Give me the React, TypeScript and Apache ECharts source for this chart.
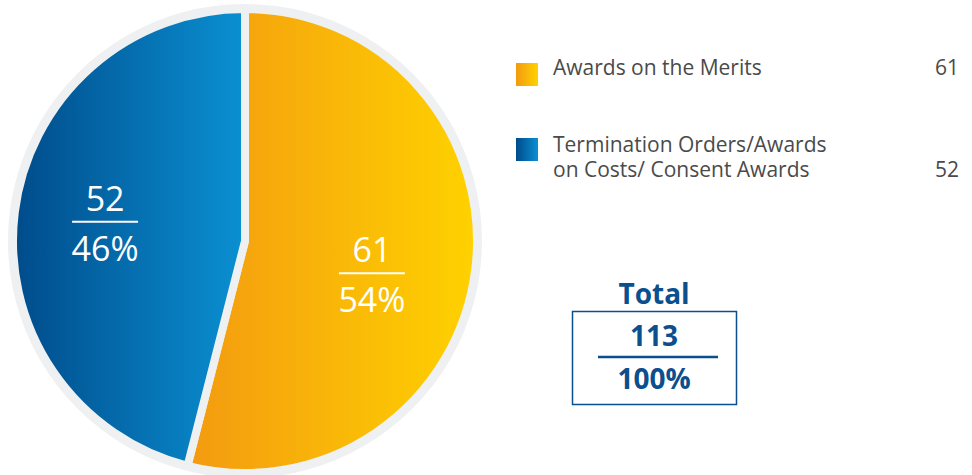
import React, { useEffect, useRef } from "react";
import * as echarts from "echarts";

const categories = ["Awards on the Merits", "Termination Orders/Awards\non Costs/ Consent Awards"];
const values = [61, 52];
const percents = ["54%", "46%"];
const totalValue = 113;
const totalPercent = "100%";
const gradientStops = [
  ["#F39A10", "#FFD200"],
  ["#004B8A", "#0A90D2"],
];

const FONT = "'Open Sans', 'Noto Sans', sans-serif";
const RING = "#EEF0F1";
const BLUE_TXT = "#0B4F8E";
const CENTER = [245, 241];

function grad(i: number) {
  return new echarts.graphic.LinearGradient(0, 0, 1, 0, [
    { offset: 0, color: gradientStops[i][0] },
    { offset: 1, color: gradientStops[i][1] },
  ]);
}

export default function App() {
  const ref = useRef<HTMLDivElement>(null);
  useEffect(() => {
    document.body.style.margin = "0";
    const chart = echarts.init(ref.current!, null, { renderer: "svg" });
    const data = values.map((v, i) => ({
      name: categories[i],
      value: v,
      itemStyle: { color: grad(i) },
    }));
    const labelShift = [
      [-11, 17],
      [-2, 0],
    ];
    const legendGraphics: any[] = [];
    const legendIconTops = [63, 138];
    const legendFirstLineY = [66.5, 143.5];
    const LINE_H = 25;
    categories.forEach((c, i) => {
      legendGraphics.push({
        type: "rect",
        shape: { x: 516, y: legendIconTops[i], width: 22, height: 23 },
        style: { fill: grad(i) },
      });
      const nLines = c.split("\n").length;
      legendGraphics.push({
        type: "text",
        x: 553,
        y: legendFirstLineY[i] + ((nLines - 1) * LINE_H) / 2,
        style: {
          text: c,
          font: `21px ${FONT}`,
          fill: "#4a4a4a",
          lineHeight: LINE_H,
          verticalAlign: "middle",
        },
      });
      legendGraphics.push({
        type: "text",
        x: 959,
        y: legendFirstLineY[i] + (nLines - 1) * LINE_H,
        style: {
          text: String(values[i]),
          font: `21px ${FONT}`,
          fill: "#4a4a4a",
          align: "right",
          verticalAlign: "middle",
        },
      });
    });

    const totalText = (text: string, y: number) => ({
      type: "text",
      x: 654,
      y,
      style: {
        text,
        font: `bold 28px ${FONT}`,
        fill: BLUE_TXT,
        align: "center",
        verticalAlign: "middle",
      },
    });

    chart.setOption({
      animation: false,
      series: [
        {
          type: "pie",
          silent: true,
          center: CENTER,
          radius: [0, 237],
          z: 1,
          label: { show: false },
          labelLine: { show: false },
          itemStyle: { color: RING },
          data: [{ value: 1 }],
        },
        {
          type: "pie",
          silent: true,
          center: CENTER,
          radius: [0, 232],
          startAngle: 90,
          clockwise: true,
          z: 2,
          label: { show: false },
          labelLine: { show: false },
          itemStyle: { borderColor: RING, borderWidth: 8 },
          data,
        },
        {
          type: "pie",
          silent: true,
          center: CENTER,
          radius: [0, 272],
          startAngle: 90,
          clockwise: true,
          z: 3,
          itemStyle: { color: "transparent" },
          labelLine: { show: false },
          label: {
            show: true,
            position: "inside",
            formatter: (p: any) => `{a|${values[p.dataIndex]}}\n{hr|}\n{b|${percents[p.dataIndex]}}`,
            rich: {
              a: { fontSize: 34, fontFamily: FONT, color: "#fff", lineHeight: 46, align: "center" },
              hr: { width: 66, height: 2, backgroundColor: "#fff", align: "center" },
              b: { fontSize: 34, fontFamily: FONT, color: "#fff", lineHeight: 50, align: "center" },
            },
          },
          labelLayout: (p: any) => ({ dx: labelShift[p.dataIndex][0], dy: labelShift[p.dataIndex][1] }),
          data: values.map((v, i) => ({ name: categories[i], value: v })),
        },
      ],
      graphic: [
        ...legendGraphics,
        totalText("Total", 293),
        {
          type: "rect",
          shape: { x: 572.5, y: 311.5, width: 164, height: 93 },
          style: { fill: "none", stroke: BLUE_TXT, lineWidth: 1.5 },
        },
        totalText(String(totalValue), 335),
        {
          type: "line",
          shape: { x1: 598, y1: 357, x2: 718, y2: 357 },
          style: { stroke: BLUE_TXT, lineWidth: 2.5 },
        },
        totalText(totalPercent, 377.5),
      ],
    });
    return () => chart.dispose();
  }, []);
  return <div ref={ref} style={{ width: 972, height: 475 }} />;
}
